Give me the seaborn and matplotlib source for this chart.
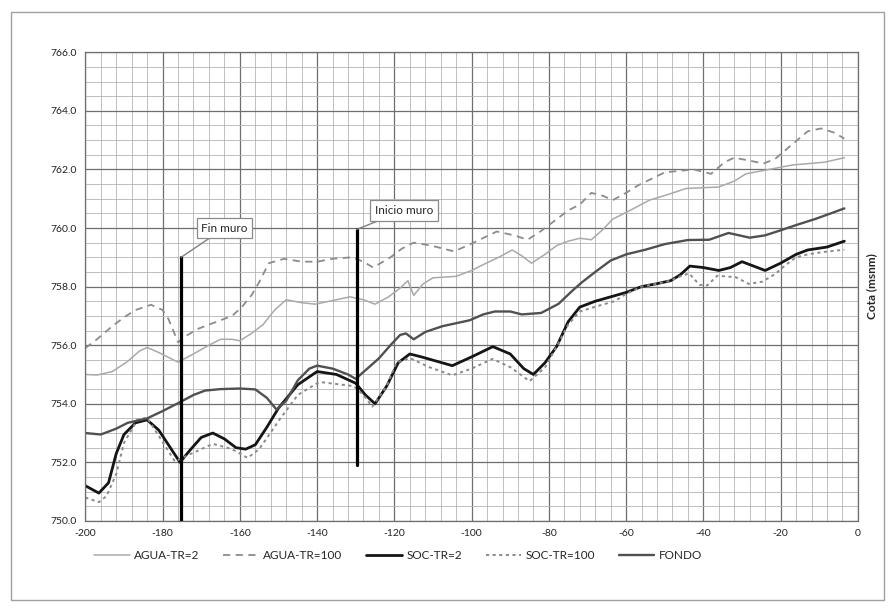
import numpy as np
import pandas as pd
import seaborn as sns
from matplotlib import pyplot as plt
from matplotlib.patches import Rectangle
from matplotlib.ticker import MultipleLocator, FormatStrFormatter

# valores (abscisa, cota)
x_agua2 = [-200, -197, -193, -189, -186, -184, -181, -178, -176, -172, -168, -165, -162, -160,
           -157, -154, -151, -148, -144, -140.5, -135, -131.5, -128, -125, -121.5, -118.5,
           -116.5, -115, -112.5, -110, -104, -100, -97, -93, -89.5, -87, -84.5, -81, -78,
           -75, -72, -69, -66, -63.5, -59, -54, -49, -44.5, -36, -32, -29, -23, -17, -8.5, -3.5]
y_agua2 = [755.0, 754.98, 755.1, 755.45, 755.8, 755.92, 755.75, 755.55, 755.42, 755.7, 756.0,
           756.2, 756.2, 756.15, 756.4, 756.7, 757.2, 757.55, 757.45, 757.4, 757.55, 757.65,
           757.55, 757.4, 757.65, 757.95, 758.2, 757.7, 758.1, 758.3, 758.35, 758.55, 758.75,
           759.0, 759.25, 759.05, 758.8, 759.1, 759.4, 759.55, 759.65, 759.6, 759.95, 760.3,
           760.6, 760.95, 761.15, 761.35, 761.4, 761.6, 761.85, 762.0, 762.15, 762.25, 762.4]

x_agua100 = [-200, -197, -193, -190, -187, -183, -180, -178.5, -176, -173.5, -171, -166, -162,
             -159.5, -157, -155, -152.5, -148.5, -144, -140, -136, -131, -128, -125.5, -121,
             -118, -115, -110.5, -104.5, -99.5, -93.5, -89, -85.5, -82, -78.5, -75, -72, -69,
             -66, -63.5, -60, -57, -50, -42.5, -38, -34.5, -32, -28, -24.5, -21.5, -17.5, -13,
             -9.5, -6, -3.5]
y_agua100 = [755.9, 756.2, 756.65, 756.95, 757.2, 757.38, 757.2, 756.9, 756.1, 756.35, 756.55,
             756.8, 757.0, 757.3, 757.7, 758.15, 758.8, 758.95, 758.85, 758.85, 758.95, 759.0,
             758.85, 758.65, 759.0, 759.3, 759.5, 759.4, 759.2, 759.5, 759.88, 759.75, 759.6,
             759.9, 760.25, 760.6, 760.8, 761.2, 761.1, 760.95, 761.2, 761.45, 761.9, 762.0,
             761.85, 762.25, 762.4, 762.3, 762.2, 762.35, 762.8, 763.3, 763.4, 763.25, 763.05]

x_soc2 = [-200, -196.5, -194, -192, -190, -187, -184, -181, -178, -175.5, -173, -170, -167, -164,
          -161, -158.5, -156, -153, -150, -145, -140, -135, -130, -127.5, -125, -122, -119, -116,
          -113, -109, -105, -100, -94.5, -90, -86.5, -84, -81, -78, -75, -72, -68, -64, -60, -56,
          -52, -48.5, -46, -43.5, -40, -36, -33, -30, -27, -24, -20, -16, -13, -8, -3.5]
y_soc2 = [751.2, 750.95, 751.3, 752.3, 752.95, 753.35, 753.45, 753.1, 752.5, 752.0, 752.4,
          752.85, 753.0, 752.8, 752.5, 752.45, 752.6, 753.2, 753.85, 754.65, 755.1, 755.0,
          754.7, 754.3, 754.0, 754.6, 755.4, 755.7, 755.6, 755.45, 755.3, 755.6, 755.95, 755.7,
          755.2, 755.0, 755.4, 755.95, 756.8, 757.3, 757.5, 757.65, 757.8, 758.0, 758.1, 758.2,
          758.4, 758.7, 758.65, 758.55, 758.65, 758.85, 758.7, 758.55, 758.8, 759.1, 759.25,
          759.35, 759.55]

x_soc100 = [-200, -196.5, -194.5, -192, -190, -186.5, -184, -180.5, -176.8, -173, -167, -162,
            -158, -155, -149.5, -145, -140, -138.5, -133.5, -130.5, -128, -125.7, -122, -119.5,
            -116, -111, -105, -100, -94.6, -90, -85, -81, -78, -75, -72, -67, -63, -60, -56, -52,
            -48.5, -46, -43.7, -41, -39, -36.4, -31.6, -28.2, -24.7, -21.3, -18.7, -16, -13, -9,
            -3.5]
y_soc100 = [750.8, 750.64, 750.85, 751.6, 752.66, 753.46, 753.52, 752.8, 752.03, 752.27, 752.63,
            752.45, 752.15, 752.45, 753.5, 754.3, 754.7, 754.73, 754.65, 754.6, 754.3, 753.9,
            754.6, 755.4, 755.56, 755.25, 754.97, 755.2, 755.53, 755.25, 754.77, 755.24, 755.95,
            756.7, 757.15, 757.35, 757.5, 757.75, 758.0, 758.1, 758.2, 758.35, 758.45, 758.06,
            758.04, 758.37, 758.32, 758.09, 758.17, 758.44, 758.74, 759.0, 759.1, 759.18, 759.26]

x_fondo = [-200, -196, -192, -189, -184, -180, -176, -172, -169, -165, -160, -156, -153, -150.5,
           -148, -145, -142, -140, -136, -132, -130, -127, -124, -121, -118.5, -117, -115, -112,
           -107.5, -100.5, -97, -94, -90, -87, -82, -77.5, -74, -71.5, -68, -64, -60, -55, -50,
           -44, -38.5, -33.5, -28, -24, -20.5, -16, -11, -7, -3.5]
y_fondo = [753.0, 752.95, 753.15, 753.35, 753.5, 753.75, 754.02, 754.3, 754.45, 754.5, 754.52,
           754.49, 754.2, 753.8, 754.1, 754.8, 755.2, 755.3, 755.2, 755.0, 754.85, 755.2, 755.55,
           756.0, 756.35, 756.4, 756.2, 756.45, 756.65, 756.85, 757.05, 757.15, 757.15, 757.05,
           757.1, 757.41, 757.85, 758.14, 758.5, 758.89, 759.1, 759.26, 759.45, 759.59, 759.6,
           759.83, 759.67, 759.75, 759.9, 760.1, 760.31, 760.5, 760.67]

# muros: abscisa, cota inferior, cota superior
fin_muro = (-175.2, 750.0, 759.0)
inicio_muro = (-129.8, 751.9, 759.95)

series = [
    ("AGUA-TR=2", x_agua2, y_agua2),
    ("AGUA-TR=100", x_agua100, y_agua100),
    ("SOC-TR=2", x_soc2, y_soc2),
    ("SOC-TR=100", x_soc100, y_soc100),
    ("FONDO", x_fondo, y_fondo),
]
estilos = {
    "AGUA-TR=2": dict(color="#a9a9a9", linewidth=1.1),
    "AGUA-TR=100": dict(color="#8c8c8c", linewidth=1.3, dashes=(4, 3)),
    "SOC-TR=2": dict(color="#151515", linewidth=2.0),
    "SOC-TR=100": dict(color="#8a8a8a", linewidth=1.4, dashes=(1.6, 1.8)),
    "FONDO": dict(color="#505050", linewidth=1.7),
}

sns.set_theme(style="white")
plt.rcParams["font.family"] = ["Lato", "DejaVu Sans"]
plt.rcParams["axes.unicode_minus"] = False

fig = plt.figure(figsize=(8.89, 6.15), dpi=100)
ax = fig.add_axes([0.096, 0.153, 0.869, 0.762])

for nombre, xs, ys in series:
    df = pd.DataFrame({"x": xs, "y": ys})
    st = dict(estilos[nombre])
    dashes = st.pop("dashes", None)
    sns.lineplot(data=df, x="x", y="y", sort=False, ax=ax, label=nombre, **st)
    ax.lines[-1].set_solid_joinstyle("round")
    ax.lines[-1].set_dash_joinstyle("round")
    if dashes is not None:
        ax.lines[-1].set_dashes(dashes)

for xm, y0, y1 in (fin_muro, inicio_muro):
    ax.plot([xm, xm], [y0, y1], color="black", linewidth=2.3, zorder=5)

caja = dict(boxstyle="square,pad=0.4", facecolor="white", edgecolor="#8a8a8a", linewidth=0.9)
ax.annotate("Fin muro", xy=(fin_muro[0], fin_muro[2]), xytext=(-170.0, 760.0),
            fontsize=8.5, va="center", ha="left", bbox=caja, zorder=6,
            arrowprops=dict(arrowstyle="-", color="#808080", linewidth=1.0, shrinkA=0, shrinkB=0))
ax.annotate("Inicio muro", xy=(inicio_muro[0], inicio_muro[2]), xytext=(-125.0, 760.6),
            fontsize=8.5, va="center", ha="left", bbox=caja, zorder=6,
            arrowprops=dict(arrowstyle="-", color="#808080", linewidth=1.0, shrinkA=0, shrinkB=0))

ax.set_xlim(-200, 0)
ax.set_ylim(750, 766)
ax.xaxis.set_major_locator(MultipleLocator(20))
ax.xaxis.set_minor_locator(MultipleLocator(4))
ax.yaxis.set_major_locator(MultipleLocator(2))
ax.yaxis.set_minor_locator(MultipleLocator(0.5))
ax.yaxis.set_major_formatter(FormatStrFormatter("%.1f"))
ax.grid(which="major", color="#6e6e6e", linewidth=0.9)
ax.grid(which="minor", color="#b4b4b4", linewidth=0.6)
ax.set_axisbelow(True)
ax.tick_params(axis="both", which="both", length=0, labelsize=7.5, colors="#222222", pad=6)
for sp in ax.spines.values():
    sp.set_color("#6e6e6e")
    sp.set_linewidth(0.9)

ax.set_xlabel("")
ax.yaxis.set_label_position("right")
ax.set_ylabel("Cota (msnm)", fontsize=8.5, fontweight="bold", labelpad=6)

ax.legend(loc="upper center", bbox_to_anchor=(0.405, -0.04), ncol=5, frameon=False,
          fontsize=8.5, handlelength=3.0, columnspacing=2.0, handletextpad=0.4)

fig.patches.append(Rectangle((0.012, 0.025), 0.982, 0.955, transform=fig.transFigure,
                             fill=False, edgecolor="#a0a0a0", linewidth=1.0))

plt.savefig("out.png", dpi=100)
